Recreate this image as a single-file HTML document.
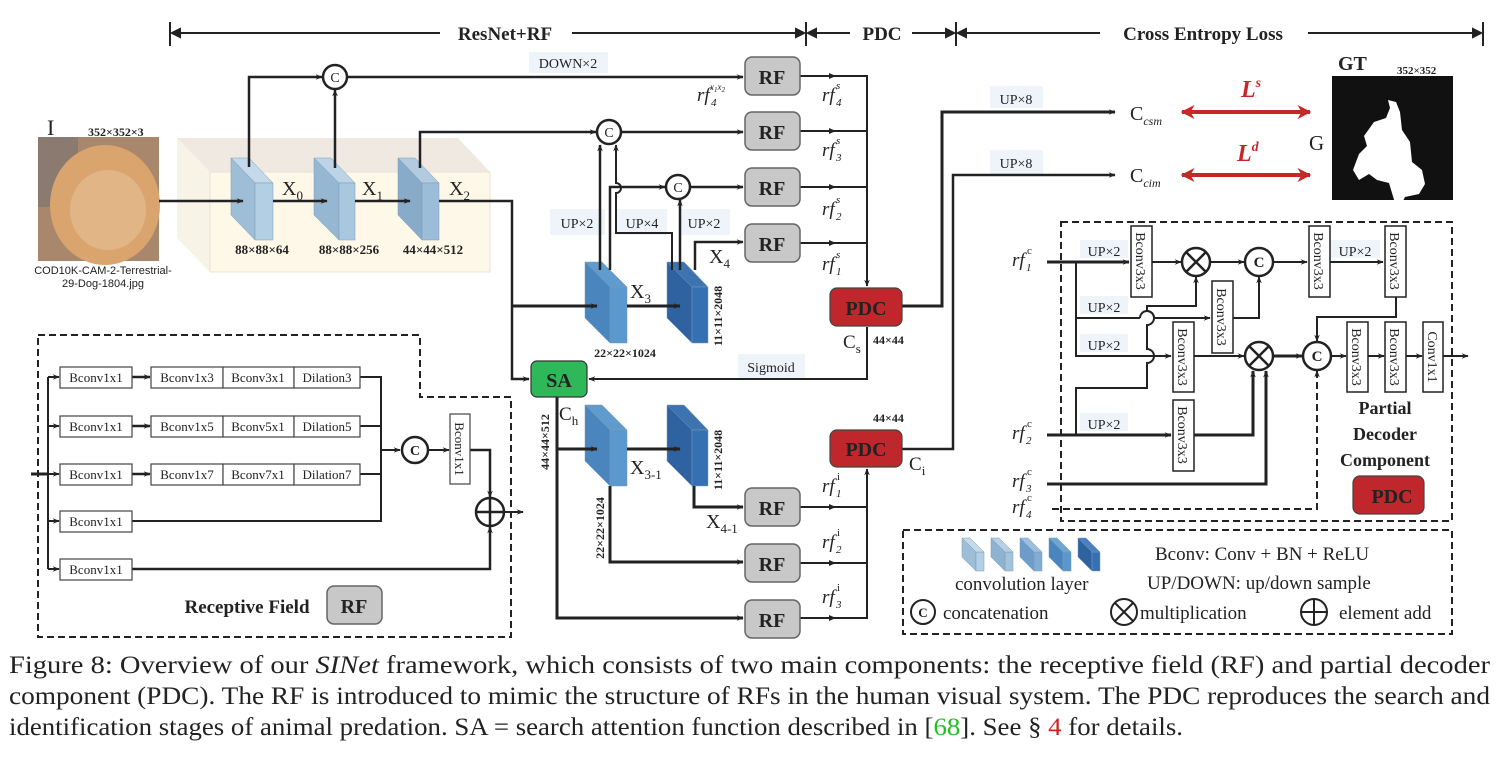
<!DOCTYPE html>
<html><head><meta charset="utf-8"><style>
body{margin:0;background:#fff}
svg{display:block}
text{font-family:"Liberation Serif",serif;fill:#222}
.b{font-weight:bold}
.s{font-family:"Liberation Sans",sans-serif}
</style></head><body>
<svg width="1506" height="766" viewBox="0 0 1506 766" xmlns="http://www.w3.org/2000/svg">
<defs>
<marker id="a" viewBox="0 0 10 10" refX="9" refY="5" markerWidth="7" markerHeight="7" orient="auto" markerUnits="userSpaceOnUse"><path d="M0,1 L10,5 L0,9 L3,5z" fill="#222"/></marker>
<marker id="r" viewBox="0 0 10 10" refX="9" refY="5" markerWidth="14" markerHeight="14" orient="auto-start-reverse" markerUnits="userSpaceOnUse"><path d="M0,0 L10,5 L0,10 L3,5z" fill="#c62828"/></marker>
</defs>
<g stroke="#222" fill="none" stroke-width="2">
<line x1="170" y1="22" x2="170" y2="46"/><line x1="806" y1="22" x2="806" y2="46"/><line x1="956" y1="22" x2="956" y2="46"/><line x1="1483" y1="22" x2="1483" y2="46"/>
<line x1="172" y1="33" x2="440" y2="33"/>
<path d="M172,33 l8,-4 v8z" fill="#222"/>
<line x1="572" y1="33" x2="804" y2="33"/><path d="M804,33 l-8,-4 v8z" fill="#222"/>
<line x1="808" y1="33" x2="850" y2="33"/><path d="M808,33 l8,-4 v8z" fill="#222"/>
<line x1="912" y1="33" x2="954" y2="33"/><path d="M954,33 l-8,-4 v8z" fill="#222"/>
<line x1="958" y1="33" x2="1100" y2="33"/><path d="M958,33 l8,-4 v8z" fill="#222"/>
<line x1="1308" y1="33" x2="1481" y2="33"/><path d="M1481,33 l-8,-4 v8z" fill="#222"/>
</g>
<text x="505" y="40" class="b" font-size="19" text-anchor="middle">ResNet+RF</text>
<text x="882" y="40" class="b" font-size="19" text-anchor="middle">PDC</text>
<text x="1203" y="40" class="b" font-size="19" text-anchor="middle">Cross Entropy Loss</text>

<!-- input image -->
<text x="47" y="135" font-size="22">I</text>
<text x="88" y="136" class="b" font-size="12">352×352×3</text>
<rect x="38" y="137" width="121" height="124" fill="#a9876d"/>
<rect x="38" y="137" width="40" height="70" fill="#8a7a70"/>
<ellipse cx="105" cy="205" rx="55" ry="60" fill="#d9a46e"/>
<ellipse cx="108" cy="210" rx="38" ry="40" fill="#e2b586"/>
<text x="103" y="274" class="s" font-size="11" text-anchor="middle">COD10K-CAM-2-Terrestrial-</text>
<text x="103" y="287" class="s" font-size="11" text-anchor="middle">29-Dog-1804.jpg</text>

<!-- translucent box -->
<polygon points="177,138 458,138 490,172 210,172" fill="#efe9e2"/>
<polygon points="177,138 210,172 210,272 177,238" fill="#f7f3e6"/>
<rect x="210" y="172" width="280" height="100" fill="#fdf8e8" stroke="#e8e2d4"/>

<!-- blocks -->
<g stroke="#7a9bb6" stroke-width="0.5">
<polygon points="231,158 249,158 273,183 255,183" fill="#c4d9ea"/><polygon points="231,158 255,183 255,240 231,215" fill="#9ebdd6"/><rect x="255" y="183" width="18" height="57" fill="#b2cfe4"/>
<polygon points="314,158 331,158 355,183 339,183" fill="#bdd4e8"/><polygon points="314,158 339,183 339,240 314,215" fill="#96b7d2"/><rect x="339" y="183" width="16" height="57" fill="#a9c8df"/>
<polygon points="398,158 415,158 439,183 422,183" fill="#b2cbe0"/><polygon points="398,158 422,183 422,240 398,215" fill="#88abc9"/><rect x="422" y="183" width="17" height="57" fill="#9cbdd7"/>
<polygon points="585,262 602,262 627,287 610,287" fill="#5f9bcc"/><polygon points="585,262 610,287 610,343 585,318" fill="#4a86bd"/><rect x="610" y="287" width="17" height="56" fill="#5b98cd"/>
<polygon points="667,262 684,262 708,287 692,287" fill="#3d74b0"/><polygon points="667,262 692,287 692,343 667,318" fill="#2e62a0"/><rect x="692" y="287" width="16" height="56" fill="#3470b2"/>
<polygon points="585,405 602,405 627,430 610,430" fill="#5f9bcc"/><polygon points="585,405 610,430 610,486 585,461" fill="#4a86bd"/><rect x="610" y="430" width="17" height="56" fill="#5b98cd"/>
<polygon points="667,405 684,405 708,430 692,430" fill="#3d74b0"/><polygon points="667,405 692,430 692,486 667,461" fill="#2e62a0"/><rect x="692" y="430" width="16" height="56" fill="#3470b2"/>
</g>
<text x="282" y="195" font-size="20">X<tspan font-size="13" dy="5">0</tspan></text>
<text x="362" y="195" font-size="20">X<tspan font-size="13" dy="5">1</tspan></text>
<text x="449" y="195" font-size="20">X<tspan font-size="13" dy="5">2</tspan></text>
<text x="262" y="254" class="b" font-size="13" text-anchor="middle">88×88×64</text>
<text x="349" y="254" class="b" font-size="13" text-anchor="middle">88×88×256</text>
<text x="433" y="254" class="b" font-size="13" text-anchor="middle">44×44×512</text>
<text x="630" y="298" font-size="20">X<tspan font-size="13" dy="5">3</tspan></text>
<text x="709" y="263" font-size="20">X<tspan font-size="13" dy="5">4</tspan></text>
<text x="625" y="357" class="b" font-size="12" text-anchor="middle">22×22×1024</text>
<text transform="translate(722,316) rotate(-90)" class="b" font-size="12" text-anchor="middle">11×11×2048</text>
<text x="630" y="474" font-size="20">X<tspan font-size="13" dy="5">3-1</tspan></text>
<text x="706" y="528" font-size="20">X<tspan font-size="13" dy="5">4-1</tspan></text>
<text transform="translate(604,528) rotate(-90)" class="b" font-size="12" text-anchor="middle">22×22×1024</text>
<text transform="translate(722,460) rotate(-90)" class="b" font-size="12" text-anchor="middle">11×11×2048</text>
<text transform="translate(549,442) rotate(-90)" class="b" font-size="12" text-anchor="middle">44×44×512</text>
<text x="559" y="420" font-size="19">C<tspan font-size="13" dy="5">h</tspan></text>

<g fill="#eef4fa">
<rect x="529" y="52" width="79" height="21"/><rect x="550" y="209" width="55" height="26"/><rect x="617" y="209" width="50" height="26"/><rect x="679" y="209" width="51" height="26"/>
<rect x="738" y="354" width="67" height="24"/><rect x="990" y="86" width="53" height="22"/><rect x="990" y="150" width="53" height="24"/>
<rect x="1080" y="240" width="48" height="18"/><rect x="1080" y="296" width="48" height="18"/><rect x="1080" y="334" width="48" height="18"/><rect x="1080" y="413" width="48" height="18"/><rect x="1330" y="240" width="50" height="18"/>
</g>
<g font-size="14">
<text x="568" y="68" text-anchor="middle">DOWN×2</text>
<text x="577" y="228" text-anchor="middle">UP×2</text><text x="642" y="228" text-anchor="middle">UP×4</text><text x="704" y="228" text-anchor="middle">UP×2</text>
<text x="771" y="372" text-anchor="middle">Sigmoid</text>
<text x="1016" y="104" text-anchor="middle">UP×8</text><text x="1016" y="168" text-anchor="middle">UP×8</text>
<text x="1104" y="256" text-anchor="middle">UP×2</text><text x="1104" y="312" text-anchor="middle">UP×2</text><text x="1104" y="350" text-anchor="middle">UP×2</text><text x="1104" y="429" text-anchor="middle">UP×2</text><text x="1355" y="256" text-anchor="middle">UP×2</text>
</g>

<g stroke="#222" fill="none" stroke-width="3">
<line x1="159" y1="201" x2="243" y2="201" stroke-width="2.5" marker-end="url(#a)"/>
<line x1="273" y1="201" x2="327" y2="201" stroke-width="2.5" marker-end="url(#a)"/>
<line x1="355" y1="201" x2="410" y2="201" stroke-width="2.5" marker-end="url(#a)"/>
<path d="M439,201 H512 V379 H529" stroke-width="2.5" marker-end="url(#a)"/>
<line x1="512" y1="306" x2="597" y2="306" marker-end="url(#a)"/>
<line x1="627" y1="306" x2="680" y2="306" marker-end="url(#a)"/>
<path d="M249,167 V77 H322" stroke-width="2.5" marker-end="url(#a)"/>
<line x1="335" y1="168" x2="335" y2="90" stroke-width="2.5" marker-end="url(#a)"/>
<line x1="348" y1="77" x2="743" y2="77" stroke-width="2.5" marker-end="url(#a)"/>
<path d="M420,168 V132 H596" stroke-width="2.5" marker-end="url(#a)"/>
<line x1="622" y1="132" x2="743" y2="132" stroke-width="2.5" marker-end="url(#a)"/>
<line x1="691" y1="187" x2="743" y2="187" stroke-width="2.5" marker-end="url(#a)"/>
<line x1="600" y1="270" x2="600" y2="145" stroke-width="2.5" marker-end="url(#a)"/>
<path d="M610,270 V187 H665" stroke-width="2.5" marker-end="url(#a)"/>
<path d="M672,270 V233 H616 V193 a5,5 0 0 0 0,-10 V145" stroke-width="2" marker-end="url(#a)"/>
<line x1="680" y1="270" x2="680" y2="200" stroke-width="2.5" marker-end="url(#a)"/>
<path d="M695,270 V242 H743" stroke-width="2.5" marker-end="url(#a)"/>
<g stroke-width="2">
<path d="M800,76 H867 V286" marker-end="url(#a)"/>
<line x1="800" y1="131" x2="867" y2="131"/><line x1="800" y1="187" x2="867" y2="187"/><line x1="800" y1="243" x2="867" y2="243"/>
<path d="M867,327 V379 H589" marker-end="url(#a)"/>
<path d="M800,507 H867"/><path d="M800,563 H867"/><path d="M800,618 H867 V469" marker-end="url(#a)"/>
</g>
<path d="M902,306 H942 V112 H1115" marker-end="url(#a)"/>
<path d="M902,449 H953 V175 H1115" stroke-width="2.5" marker-end="url(#a)"/>
<path d="M557,397 V618 H743" marker-end="url(#a)"/>
<line x1="557" y1="449" x2="597" y2="449" marker-end="url(#a)"/>
<line x1="627" y1="449" x2="680" y2="449" marker-end="url(#a)"/>
<path d="M610,486 V562 H743" marker-end="url(#a)"/>
<path d="M694,486 V507 H743" marker-end="url(#a)"/>
</g>
<g fill="#222"><path d="M836,76 l-7,-3 v6z"/><path d="M836,131 l-7,-3 v6z"/><path d="M836,187 l-7,-3 v6z"/><path d="M836,243 l-7,-3 v6z"/><path d="M836,507 l-7,-3 v6z"/><path d="M836,563 l-7,-3 v6z"/><path d="M836,618 l-7,-3 v6z"/></g>

<g fill="#fff" stroke="#222" stroke-width="2.5"><circle cx="335" cy="77" r="12"/><circle cx="609" cy="132" r="12"/><circle cx="678" cy="187" r="12"/></g>
<g font-size="14" text-anchor="middle"><text x="335" y="82">C</text><text x="609" y="137">C</text><text x="678" y="192">C</text></g>

<g fill="#c8c8c8" stroke="#666" stroke-width="1.5">
<rect x="745" y="57" width="55" height="38" rx="7"/><rect x="745" y="112" width="55" height="38" rx="7"/><rect x="745" y="168" width="55" height="38" rx="7"/><rect x="745" y="224" width="55" height="38" rx="7"/>
<rect x="745" y="488" width="55" height="38" rx="7"/><rect x="745" y="544" width="55" height="38" rx="7"/><rect x="745" y="600" width="55" height="38" rx="7"/>
<rect x="327" y="586" width="55" height="38" rx="7"/>
</g>
<g class="b" font-size="20" text-anchor="middle">
<text x="772" y="84" class="b">RF</text><text x="772" y="139" class="b">RF</text><text x="772" y="195" class="b">RF</text><text x="772" y="251" class="b">RF</text>
<text x="772" y="515" class="b">RF</text><text x="772" y="571" class="b">RF</text><text x="772" y="627" class="b">RF</text><text x="354" y="613" class="b">RF</text>
</g>
<g font-size="19" font-style="italic">
<text x="697" y="101">rf</text><text x="710" y="90" font-size="9">x<tspan font-size="7" dy="2">1</tspan><tspan dy="-2">x</tspan><tspan font-size="7" dy="2">2</tspan></text><text x="711" y="106" font-size="11">4</text>
<text x="822" y="101">rf</text><text x="836" y="89" font-size="11">s</text><text x="836" y="106" font-size="11">4</text>
<text x="822" y="156">rf</text><text x="836" y="144" font-size="11">s</text><text x="836" y="161" font-size="11">3</text>
<text x="822" y="215">rf</text><text x="836" y="203" font-size="11">s</text><text x="836" y="220" font-size="11">2</text>
<text x="822" y="270">rf</text><text x="836" y="258" font-size="11">s</text><text x="836" y="275" font-size="11">1</text>
<text x="822" y="492">rf</text><text x="837" y="480" font-size="11" font-style="normal">i</text><text x="836" y="497" font-size="11">1</text>
<text x="822" y="548">rf</text><text x="837" y="536" font-size="11" font-style="normal">i</text><text x="836" y="553" font-size="11">2</text>
<text x="822" y="603">rf</text><text x="837" y="591" font-size="11" font-style="normal">i</text><text x="836" y="608" font-size="11">3</text>
<text x="1012" y="266">rf</text><text x="1027" y="254" font-size="11" font-style="normal">c</text><text x="1026" y="271" font-size="11">1</text>
<text x="1012" y="439">rf</text><text x="1027" y="427" font-size="11" font-style="normal">c</text><text x="1026" y="444" font-size="11">2</text>
<text x="1012" y="487">rf</text><text x="1027" y="475" font-size="11" font-style="normal">c</text><text x="1026" y="492" font-size="11">3</text>
<text x="1012" y="513">rf</text><text x="1027" y="501" font-size="11" font-style="normal">c</text><text x="1026" y="518" font-size="11">4</text>
</g>

<rect x="531" y="361" width="56" height="36" rx="6" fill="#2fb85a" stroke="#333" stroke-width="1.2"/>
<text x="559" y="387" class="b" font-size="20" text-anchor="middle">SA</text>
<rect x="830" y="288" width="72" height="38" rx="7" fill="#c0272d" stroke="#444" stroke-width="1.2"/>
<text x="866" y="315" class="b" font-size="20" text-anchor="middle">PDC</text>
<rect x="830" y="430" width="72" height="37" rx="7" fill="#c0272d" stroke="#444" stroke-width="1.2"/>
<text x="866" y="456" class="b" font-size="20" text-anchor="middle">PDC</text>
<text x="843" y="348" font-size="19">C<tspan font-size="13" dy="5">s</tspan></text>
<text x="873" y="344" class="b" font-size="12">44×44</text>
<text x="873" y="422" class="b" font-size="12">44×44</text>
<text x="909" y="470" font-size="19">C<tspan font-size="13" dy="5">i</tspan></text>

<text x="1130" y="120" font-size="20">C<tspan font-size="12" font-style="italic" dy="5">csm</tspan></text>
<text x="1130" y="182" font-size="20">C<tspan font-size="12" font-style="italic" dy="5">cim</tspan></text>
<g stroke="#c62828" stroke-width="4"><line x1="1182" y1="112" x2="1310" y2="112" marker-start="url(#r)" marker-end="url(#r)"/><line x1="1182" y1="175" x2="1310" y2="175" marker-start="url(#r)" marker-end="url(#r)"/></g>
<text x="1241" y="97" class="b" font-size="24" font-style="italic" style="fill:#c62828">L<tspan font-size="14" dy="-10">s</tspan></text>
<text x="1237" y="161" class="b" font-size="24" font-style="italic" style="fill:#c62828">L<tspan font-size="14" dy="-10">d</tspan></text>
<text x="1309" y="150" font-size="21">G</text>
<text x="1338" y="70" class="b" font-size="20">GT</text>
<text x="1397" y="74" class="b" font-size="11">352×352</text>
<rect x="1332" y="76" width="121" height="124" fill="#111"/>
<path d="M1388,100 l8,2 4,10 2,18 8,12 2,20 10,8 3,14 -6,10 -14,3 -6,12 -4,-6 -6,-20 -12,-3 -8,-6 -10,6 -6,-10 6,-16 8,-8 -3,-10 10,-14 12,-4 4,-10z" fill="#fff"/>

<g stroke="#222" fill="none" stroke-width="2">
<rect x="1061" y="222" width="391" height="299" stroke-dasharray="7,4"/>
<rect x="903" y="530" width="549" height="104" stroke-dasharray="7,4"/>
<path d="M38,335 H420 V397 H511 V637 H38z" stroke-dasharray="7,4"/>
</g>
<g stroke="#222" fill="none" stroke-width="2">
<line x1="1047" y1="262" x2="1129" y2="262" stroke-width="3" marker-end="url(#a)"/>
<path d="M1076,262 V356 H1171" marker-end="url(#a)"/>
<line x1="1076" y1="318" x2="1140" y2="318"/><path d="M1154,318 H1210" marker-end="url(#a)"/>
<path d="M1140,318 a7,7 0 0 1 14,0"/>
<line x1="1152" y1="262" x2="1181" y2="262" marker-end="url(#a)"/>
<line x1="1210" y1="262" x2="1244" y2="262" marker-end="url(#a)"/>
<line x1="1273" y1="262" x2="1307" y2="262" marker-end="url(#a)"/>
<line x1="1330" y1="262" x2="1383" y2="262" marker-end="url(#a)"/>
<path d="M1233,318 H1259 V277" marker-end="url(#a)"/>
<path d="M1076,435 V388 H1147 V363 a7,7 0 0 0 0,-14 V325 a7,7 0 0 0 0,-14 V306 H1196 V277" marker-end="url(#a)"/>
<line x1="1194" y1="356" x2="1244" y2="356" marker-end="url(#a)"/>
<line x1="1047" y1="435" x2="1171" y2="435" stroke-width="3" marker-end="url(#a)"/>
<path d="M1194,435 H1253 V371" stroke-width="3" marker-end="url(#a)"/>
<path d="M1047,484 H1266 V371" stroke-width="3" marker-end="url(#a)"/>
<path d="M1052,509 H1317 V371" stroke-dasharray="7,4" marker-end="url(#a)"/>
<line x1="1273" y1="356" x2="1302" y2="356" stroke-width="3" marker-end="url(#a)"/>
<path d="M1396,297 V317 H1317 V341" marker-end="url(#a)"/>
<line x1="1331" y1="356" x2="1346" y2="356" marker-end="url(#a)"/>
<line x1="1368" y1="356" x2="1384" y2="356" marker-end="url(#a)"/>
<line x1="1406" y1="356" x2="1422" y2="356" marker-end="url(#a)"/>
<line x1="1443" y1="356" x2="1468" y2="356" marker-end="url(#a)"/>
</g>
<g fill="#fff" stroke="#222" stroke-width="1.5">
<rect x="1131" y="226" width="21" height="71"/><rect x="1212" y="281" width="21" height="72"/><rect x="1173" y="322" width="21" height="70"/><rect x="1173" y="400" width="21" height="71"/>
<rect x="1309" y="226" width="21" height="71"/><rect x="1385" y="226" width="21" height="71"/><rect x="1347" y="322" width="21" height="70"/><rect x="1385" y="322" width="21" height="70"/><rect x="1423" y="322" width="20" height="70"/>
</g>
<g font-size="14">
<text transform="translate(1136,261) rotate(90)" text-anchor="middle">Bconv3x3</text>
<text transform="translate(1217,317) rotate(90)" text-anchor="middle">Bconv3x3</text>
<text transform="translate(1178,357) rotate(90)" text-anchor="middle">Bconv3x3</text>
<text transform="translate(1178,435) rotate(90)" text-anchor="middle">Bconv3x3</text>
<text transform="translate(1314,261) rotate(90)" text-anchor="middle">Bconv3x3</text>
<text transform="translate(1390,261) rotate(90)" text-anchor="middle">Bconv3x3</text>
<text transform="translate(1352,357) rotate(90)" text-anchor="middle">Bconv3x3</text>
<text transform="translate(1390,357) rotate(90)" text-anchor="middle">Bconv3x3</text>
<text transform="translate(1428,357) rotate(90)" text-anchor="middle">Conv1x1</text>
</g>
<g fill="#fff" stroke="#222" stroke-width="2.5">
<circle cx="1196" cy="262" r="14"/><circle cx="1259" cy="262" r="14"/><circle cx="1259" cy="356" r="14"/><circle cx="1317" cy="356" r="14"/>
</g>
<g stroke="#222" stroke-width="2.5"><path d="M1186,252 L1206,272 M1206,252 L1186,272"/><path d="M1249,346 L1269,366 M1269,346 L1249,366"/></g>
<g class="b" font-size="15" text-anchor="middle"><text x="1259" y="267" class="b">C</text><text x="1317" y="361" class="b">C</text></g>
<g class="b" font-size="18" text-anchor="middle"><text x="1385" y="414" class="b">Partial</text><text x="1385" y="440" class="b">Decoder</text><text x="1385" y="466" class="b">Component</text></g>
<rect x="1353" y="476" width="71" height="38" rx="7" fill="#c0272d" stroke="#444" stroke-width="1.2"/>
<text x="1392" y="503" class="b" font-size="20" text-anchor="middle">PDC</text>

<g stroke="#7a9bb6" stroke-width="0.5">
<polygon points="962,538 976,552 976,571 962,557" fill="#9ebdd6"/><rect x="976" y="552" width="8" height="19" fill="#b2cfe4"/><polygon points="962,538 970,538 984,552 976,552" fill="#c4d9ea"/>
<polygon points="991,538 1005,552 1005,571 991,557" fill="#8fb2d0"/><rect x="1005" y="552" width="8" height="19" fill="#a3c3dd"/><polygon points="991,538 999,538 1013,552 1005,552" fill="#b8d0e5"/>
<polygon points="1020,538 1034,552 1034,571 1020,557" fill="#6d9ccb"/><rect x="1034" y="552" width="8" height="19" fill="#82acd4"/><polygon points="1020,538 1028,538 1042,552 1034,552" fill="#9dbede"/>
<polygon points="1049,538 1063,552 1063,571 1049,557" fill="#4a86bd"/><rect x="1063" y="552" width="8" height="19" fill="#5b98cd"/><polygon points="1049,538 1057,538 1071,552 1063,552" fill="#6fa5d3"/>
<polygon points="1078,538 1092,552 1092,571 1078,557" fill="#2e62a0"/><rect x="1092" y="552" width="8" height="19" fill="#3470b2"/><polygon points="1078,538 1086,538 1100,552 1092,552" fill="#4a80bc"/>
</g>
<g font-size="19">
<text x="955" y="590">convolution layer</text>
<text x="1155" y="560">Bconv: Conv + BN + ReLU</text>
<text x="1147" y="589">UP/DOWN: up/down sample</text>
<text x="943" y="619">concatenation</text>
<text x="1140" y="619">multiplication</text>
<text x="1339" y="619">element add</text>
</g>
<g fill="none" stroke="#222" stroke-width="2"><circle cx="923" cy="612" r="12"/><circle cx="1124" cy="612" r="13"/><circle cx="1314" cy="612" r="13"/>
<path d="M1115,603 L1133,621 M1133,603 L1115,621 M1301,612 H1327 M1314,599 V625"/></g>
<text x="923" y="617" font-size="13" class="b" text-anchor="middle">C</text>

<g stroke="#222" fill="none" stroke-width="2">
<line x1="31" y1="474" x2="48" y2="474" stroke-width="3"/>
<line x1="48" y1="377" x2="48" y2="569"/>
<line x1="48" y1="377" x2="59" y2="377" marker-end="url(#a)"/><line x1="48" y1="426" x2="59" y2="426" marker-end="url(#a)"/><line x1="48" y1="474" x2="59" y2="474" marker-end="url(#a)"/><line x1="48" y1="521" x2="59" y2="521" marker-end="url(#a)"/><line x1="48" y1="569" x2="59" y2="569" marker-end="url(#a)"/>
<line x1="132" y1="377" x2="150" y2="377" stroke-width="2.5" marker-end="url(#a)"/><line x1="132" y1="426" x2="150" y2="426" stroke-width="2.5" marker-end="url(#a)"/><line x1="132" y1="474" x2="150" y2="474" stroke-width="2.5" marker-end="url(#a)"/>
<path d="M360,377 H381 V521 H132"/><line x1="360" y1="426" x2="381" y2="426"/><line x1="360" y1="474" x2="381" y2="474"/>
<line x1="381" y1="450" x2="400" y2="450" marker-end="url(#a)"/>
<line x1="429" y1="450" x2="449" y2="450" marker-end="url(#a)"/>
<path d="M470,450 H490 V497" stroke-width="2.5" marker-end="url(#a)"/>
<path d="M132,569 H490 V527" stroke-width="2.5" marker-end="url(#a)"/>
<line x1="504" y1="512" x2="523" y2="512" marker-end="url(#a)"/>
</g>
<g fill="#fff" stroke="#444" stroke-width="1.2">
<rect x="60" y="367" width="72" height="21"/><rect x="60" y="416" width="72" height="21"/><rect x="60" y="464" width="72" height="21"/><rect x="60" y="511" width="72" height="21"/><rect x="60" y="559" width="72" height="21"/>
<rect x="151" y="367" width="72" height="21"/><rect x="223" y="367" width="71" height="21"/><rect x="294" y="367" width="66" height="21"/>
<rect x="151" y="416" width="72" height="21"/><rect x="223" y="416" width="71" height="21"/><rect x="294" y="416" width="66" height="21"/>
<rect x="151" y="464" width="72" height="21"/><rect x="223" y="464" width="71" height="21"/><rect x="294" y="464" width="66" height="21"/>
<rect x="450" y="414" width="20" height="70"/>
</g>
<g font-size="13" text-anchor="middle">
<text x="96" y="382">Bconv1x1</text><text x="96" y="431">Bconv1x1</text><text x="96" y="479">Bconv1x1</text><text x="96" y="526">Bconv1x1</text><text x="96" y="574">Bconv1x1</text>
<text x="187" y="382">Bconv1x3</text><text x="258" y="382">Bconv3x1</text><text x="327" y="382">Dilation3</text>
<text x="187" y="431">Bconv1x5</text><text x="258" y="431">Bconv5x1</text><text x="327" y="431">Dilation5</text>
<text x="187" y="479">Bconv1x7</text><text x="258" y="479">Bconv7x1</text><text x="327" y="479">Dilation7</text>
<text transform="translate(455,449) rotate(90)">Bconv1x1</text>
</g>
<circle cx="415" cy="450" r="13" fill="#fff" stroke="#222" stroke-width="2.5"/>
<text x="415" y="455" class="b" font-size="14" text-anchor="middle">C</text>
<g fill="none" stroke="#222" stroke-width="2.5"><circle cx="490" cy="512" r="14"/><path d="M476,512 H504 M490,498 V526"/></g>
<text x="247" y="613" class="b" font-size="19" text-anchor="middle">Receptive Field</text>

<g font-size="25">
<text x="9" y="673" textLength="1481" lengthAdjust="spacingAndGlyphs">Figure 8:  Overview of our <tspan font-style="italic">SINet</tspan> framework, which consists of two main components:  the receptive field (RF) and partial decoder</text>
<text x="9" y="704" textLength="1481" lengthAdjust="spacingAndGlyphs">component (PDC). The RF is introduced to mimic the structure of RFs in the human visual system. The PDC reproduces the search and</text>
<text x="9" y="735" textLength="1174" lengthAdjust="spacingAndGlyphs">identification stages of animal predation. SA = search attention function described in [<tspan style="fill:#22c022">68</tspan>]. See § <tspan style="fill:#d02020">4</tspan> for details.</text>
</g>
</svg>
</body></html>
